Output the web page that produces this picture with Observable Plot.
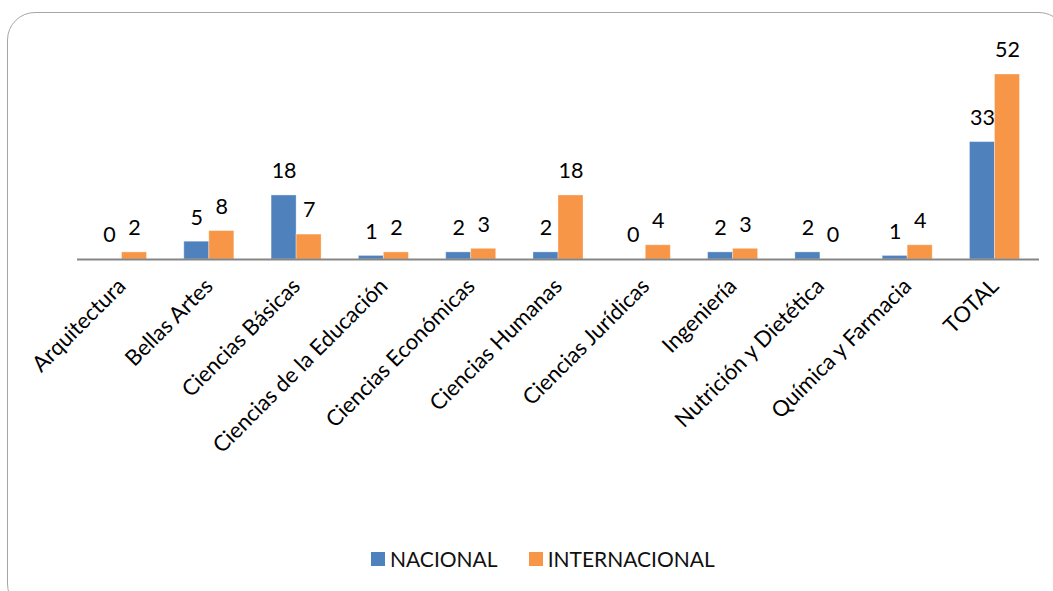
<!DOCTYPE html>
<html>
<head>
<meta charset="utf-8">
<script src="https://cdn.jsdelivr.net/npm/d3@7"></script>
<script src="https://cdn.jsdelivr.net/npm/@observablehq/plot@0.6"></script>
<style>
  html, body { margin: 0; padding: 0; background: #fff; }
  #wrap { position: relative; width: 1053px; height: 591px; overflow: hidden; font-family: Lato, "Open Sans", sans-serif; }
  #frame { position: absolute; left: 7px; top: 12px; width: 1060px; height: 600px; border: 1.5px solid #a6a6a6; border-radius: 28px; box-sizing: border-box; }
  #chart { position: absolute; left: 0; top: 0; }
  #legend { position: absolute; left: 371px; top: 546px; display: flex; align-items: center; font-size: 21px; color: #111; }
  .item { display: flex; align-items: center; margin-right: 31px; }
  .sw { width: 14px; height: 14px; margin-right: 5px; }
</style>
</head>
<body>
<div id="wrap">
  <div id="frame"></div>
  <div id="chart"></div>
  <div id="legend"></div>
</div>
<script>
const categories = ["Arquitectura", "Bellas Artes", "Ciencias Básicas", "Ciencias de la Educación", "Ciencias Económicas", "Ciencias Humanas", "Ciencias Jurídicas", "Ingeniería", "Nutrición y Dietética", "Química y Farmacia", "TOTAL"];
const nacional = [0, 5, 18, 1, 2, 2, 0, 2, 2, 1, 33];
const internacional = [2, 8, 7, 2, 3, 18, 4, 3, 0, 4, 52];
const seriesNames = ["NACIONAL", "INTERNACIONAL"];
const seriesColors = ["#4F81BD", "#F79646"];

const rowsN = categories.map((c, i) => ({category: c, value: nacional[i]}));
const rowsI = categories.map((c, i) => ({category: c, value: internacional[i]}));

const chart = Plot.plot({
  width: 1053,
  height: 540,
  marginLeft: 77,
  marginRight: 14,
  marginTop: 74,
  marginBottom: 281,
  style: {fontFamily: "Lato, 'Open Sans', sans-serif", background: "transparent", color: "#000"},
  x: {domain: categories, paddingInner: 0.427, paddingOuter: 0.2235, round: false, label: null},
  y: {domain: [0, 52], axis: null},
  marks: [
    Plot.barY(rowsN, {x: "category", y: "value", fill: seriesColors[0], insetRight: 25, stroke: "#ffffff", strokeOpacity: 0.35, strokeWidth: 1}),
    Plot.barY(rowsI, {x: "category", y: "value", fill: seriesColors[1], insetLeft: 25, stroke: "#ffffff", strokeOpacity: 0.35, strokeWidth: 1}),
    Plot.ruleY([0], {stroke: "#868686", strokeWidth: 2}),
    Plot.text(rowsN, {x: "category", y: "value", text: d => String(d.value), dx: -12.5, dy: -24, fontSize: 21.5, fill: "#000"}),
    Plot.text(rowsI, {x: "category", y: "value", text: d => String(d.value), dx: 12.5, dy: -24, fontSize: 21.5, fill: "#000"}),
    Plot.axisX({tickRotate: -45, tickSize: 0, tickPadding: 23, fontSize: 22, label: null, fill: "#000"})
  ]
});
document.getElementById("chart").appendChild(chart);

const legend = document.getElementById("legend");
seriesNames.forEach((name, i) => {
  const item = document.createElement("div");
  item.className = "item";
  const sw = document.createElement("div");
  sw.className = "sw";
  sw.style.background = seriesColors[i];
  const label = document.createElement("span");
  label.textContent = name;
  item.appendChild(sw);
  item.appendChild(label);
  legend.appendChild(item);
});
</script>
</body>
</html>
